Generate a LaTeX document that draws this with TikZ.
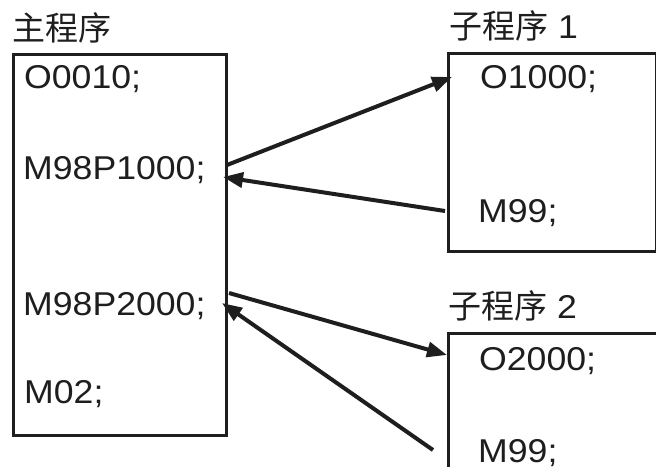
\documentclass[tikz,border=0pt]{standalone}
\usepackage{fontspec}
\setmainfont[FakeStretch=1.08]{Liberation Sans}
\newfontfamily\cjk{Noto Sans CJK SC}
\usetikzlibrary{arrows.meta}
\definecolor{ink}{RGB}{30,30,30}
\begin{document}
\begin{tikzpicture}[x=1pt,y=-1pt,
  box/.style={draw=ink,line width=2.5pt,anchor=north west,inner sep=0pt},
  code/.style={anchor=base west,inner sep=0pt,text=ink,font=\fontsize{33}{40}\selectfont},
  call/.style={draw=ink,line width=4pt,-{Triangle[length=20pt,width=15pt]}}]
\useasboundingbox (0,0) rectangle (656,466);
\clip (0,0) rectangle (656,466);
% boxes
\node[box,minimum width=213pt,minimum height=381pt] (main) at (12,53) {};
\node[box,minimum width=208pt,minimum height=198pt] (sub1) at (447,52) {};
\node[box,minimum width=230pt,minimum height=200pt] (sub2) at (447,332) {};
% titles
\node[code] (tmain) at (12,40) {\cjk 主程序};
\node[code] (tsub1) at (449,38) {{\cjk 子程序} 1};
\node[code] (tsub2) at (448,318) {{\cjk 子程序} 2};
% main program lines
\node[code] (m1) at (24,88) {O0010;};
\node[code] (m2) at (23,179) {M98P1000;};
\node[code] (m3) at (23,315) {M98P2000;};
\node[code] (m4) at (24,403) {M02;};
% sub 1 lines
\node[code] (s11) at (480,88) {O1000;};
\node[code] (s12) at (478,222) {M99;};
% sub 2 lines
\node[code] (s21) at (479,370) {O2000;};
\node[code] (s22) at (478,462) {M99;};
% arrow end points
\coordinate (a1s) at (227,165);
\coordinate (a1e) at (452,77);
\coordinate (a2s) at (445,211);
\coordinate (a2e) at (223,177);
\coordinate (a3s) at (229,293);
\coordinate (a3e) at (447,355);
\coordinate (a4s) at (433,450);
\coordinate (a4e) at (222,303);
\draw[call] (a1s) -- (a1e);
\draw[call] (a2s) -- (a2e);
\draw[call] (a3s) -- (a3e);
\draw[call] (a4s) -- (a4e);
\end{tikzpicture}
\end{document}
